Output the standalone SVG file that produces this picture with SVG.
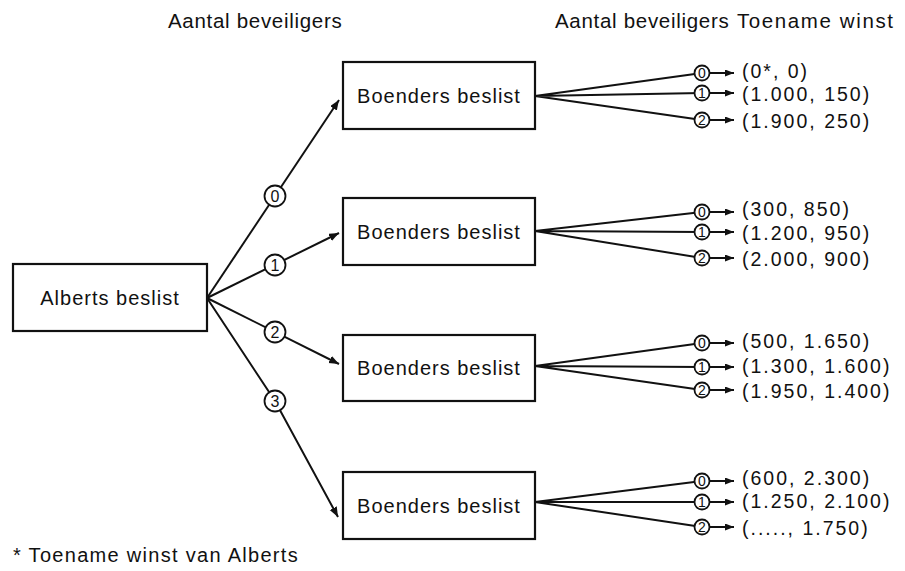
<svg xmlns="http://www.w3.org/2000/svg" width="905" height="571" viewBox="0 0 905 571">
<defs>
<marker id="ah" markerUnits="userSpaceOnUse" markerWidth="12" markerHeight="10" refX="10" refY="4" orient="auto">
<path d="M0,0 L10,4 L0,8 Z" fill="#111"/>
</marker>
<marker id="sh" markerUnits="userSpaceOnUse" markerWidth="10" markerHeight="8" refX="9" refY="3.5" orient="auto">
<path d="M0,0 L9,3.5 L0,7 Z" fill="#111"/>
</marker>
</defs>
<style>
text{font-family:"Liberation Sans",Arial,sans-serif;fill:#111}
.hd{font-size:20.5px;letter-spacing:0.7px}
.bx{font-size:20px;letter-spacing:1px;text-anchor:middle}
.val{font-size:19.5px;letter-spacing:2px}
.box{fill:#fff;stroke:#111;stroke-width:2.2}
.ln{fill:none;stroke:#111;stroke-width:2}
.c{fill:#fff;stroke:#111;stroke-width:1.8}
.cl{font-size:16px;text-anchor:middle}
.cs{font-size:14px;text-anchor:middle}
</style>

<g id="headers">
<text class="hd" x="168" y="28">Aantal beveiligers</text>
<text class="hd" x="555" y="28">Aantal beveiligers</text>
<text class="hd" x="737" y="28" style="letter-spacing:1.6px">Toename winst</text>
</g>

<g id="connectors">
<line class="ln" x1="207" y1="298" x2="339" y2="100" marker-end="url(#ah)"/>
<line class="ln" x1="207" y1="298" x2="339" y2="233" marker-end="url(#ah)"/>
<line class="ln" x1="207" y1="298" x2="339" y2="364" marker-end="url(#ah)"/>
<path class="ln" d="M207,298 L275,401 L338,517" marker-end="url(#ah)"/>

<path class="ln" d="M535,96 L702,73 M535,96 L702,93 M535,96 L702,120"/>
<path class="ln" d="M535,231 L702,212 M535,231 L702,232 M535,231 L702,258"/>
<path class="ln" d="M535,366 L702,343 M535,366 L702,367 M535,366 L702,390"/>
<path class="ln" d="M535,502 L702,481 M535,502 L702,502 M535,502 L702,527"/>

<g id="short-arrows">
<line class="ln" x1="709" y1="73" x2="734" y2="73" marker-end="url(#sh)"/>
<line class="ln" x1="709" y1="93" x2="734" y2="93" marker-end="url(#sh)"/>
<line class="ln" x1="709" y1="120" x2="734" y2="120" marker-end="url(#sh)"/>
<line class="ln" x1="709" y1="212" x2="734" y2="212" marker-end="url(#sh)"/>
<line class="ln" x1="709" y1="232" x2="734" y2="232" marker-end="url(#sh)"/>
<line class="ln" x1="709" y1="258" x2="734" y2="258" marker-end="url(#sh)"/>
<line class="ln" x1="709" y1="343" x2="734" y2="343" marker-end="url(#sh)"/>
<line class="ln" x1="709" y1="367" x2="734" y2="367" marker-end="url(#sh)"/>
<line class="ln" x1="709" y1="390" x2="734" y2="390" marker-end="url(#sh)"/>
<line class="ln" x1="709" y1="481" x2="734" y2="481" marker-end="url(#sh)"/>
<line class="ln" x1="709" y1="502" x2="734" y2="502" marker-end="url(#sh)"/>
<line class="ln" x1="709" y1="527" x2="734" y2="527" marker-end="url(#sh)"/>
</g>
</g>

<g id="labels-left">
<circle class="c" cx="275" cy="196" r="10.5"/><text class="cl" x="275" y="201.5">0</text>
<circle class="c" cx="275" cy="265" r="10.5"/><text class="cl" x="275" y="270.5">1</text>
<circle class="c" cx="275" cy="332" r="10.5"/><text class="cl" x="275" y="337.5">2</text>
<circle class="c" cx="275" cy="401" r="10.5"/><text class="cl" x="275" y="406.5">3</text>
</g>

<g id="labels-right">
<circle class="c" cx="702" cy="73" r="7.5"/><text class="cs" x="702" y="78">0</text>
<circle class="c" cx="702" cy="93" r="7.5"/><text class="cs" x="702" y="98">1</text>
<circle class="c" cx="702" cy="120" r="7.5"/><text class="cs" x="702" y="125">2</text>
<circle class="c" cx="702" cy="212" r="7.5"/><text class="cs" x="702" y="217">0</text>
<circle class="c" cx="702" cy="232" r="7.5"/><text class="cs" x="702" y="237">1</text>
<circle class="c" cx="702" cy="258" r="7.5"/><text class="cs" x="702" y="263">2</text>
<circle class="c" cx="702" cy="343" r="7.5"/><text class="cs" x="702" y="348">0</text>
<circle class="c" cx="702" cy="367" r="7.5"/><text class="cs" x="702" y="372">1</text>
<circle class="c" cx="702" cy="390" r="7.5"/><text class="cs" x="702" y="395">2</text>
<circle class="c" cx="702" cy="481" r="7.5"/><text class="cs" x="702" y="486">0</text>
<circle class="c" cx="702" cy="502" r="7.5"/><text class="cs" x="702" y="507">1</text>
<circle class="c" cx="702" cy="527" r="7.5"/><text class="cs" x="702" y="532">2</text>
</g>

<g id="alberts">
<rect class="box" x="13" y="264" width="194" height="67"/>
<text class="bx" x="110" y="305">Alberts beslist</text>
</g>
<g id="boenders1">
<rect class="box" x="343" y="62" width="192" height="67"/>
<text class="bx" x="439" y="103">Boenders beslist</text>
</g>
<g id="boenders2">
<rect class="box" x="343" y="198" width="192" height="67"/>
<text class="bx" x="439" y="239">Boenders beslist</text>
</g>
<g id="boenders3">
<rect class="box" x="343" y="335" width="192" height="66"/>
<text class="bx" x="439" y="375">Boenders beslist</text>
</g>
<g id="boenders4">
<rect class="box" x="343" y="472" width="192" height="67"/>
<text class="bx" x="439" y="513">Boenders beslist</text>
</g>

<g id="values">
<text class="val" x="742" y="78">(0*, 0)</text>
<text class="val" x="742" y="101">(1.000, 150)</text>
<text class="val" x="742" y="128">(1.900, 250)</text>
<text class="val" x="742" y="216">(300, 850)</text>
<text class="val" x="742" y="240">(1.200, 950)</text>
<text class="val" x="742" y="266">(2.000, 900)</text>
<text class="val" x="742" y="348">(500, 1.650)</text>
<text class="val" x="742" y="373">(1.300, 1.600)</text>
<text class="val" x="742" y="398">(1.950, 1.400)</text>
<text class="val" x="742" y="485">(600, 2.300)</text>
<text class="val" x="742" y="508">(1.250, 2.100)</text>
<text class="val" x="742" y="535">(....., 1.750)</text>
</g>

<g id="footnote">
<text class="bx" x="13" y="562" style="text-anchor:start;letter-spacing:1.3px">* Toename winst van Alberts</text>
</g>
</svg>
